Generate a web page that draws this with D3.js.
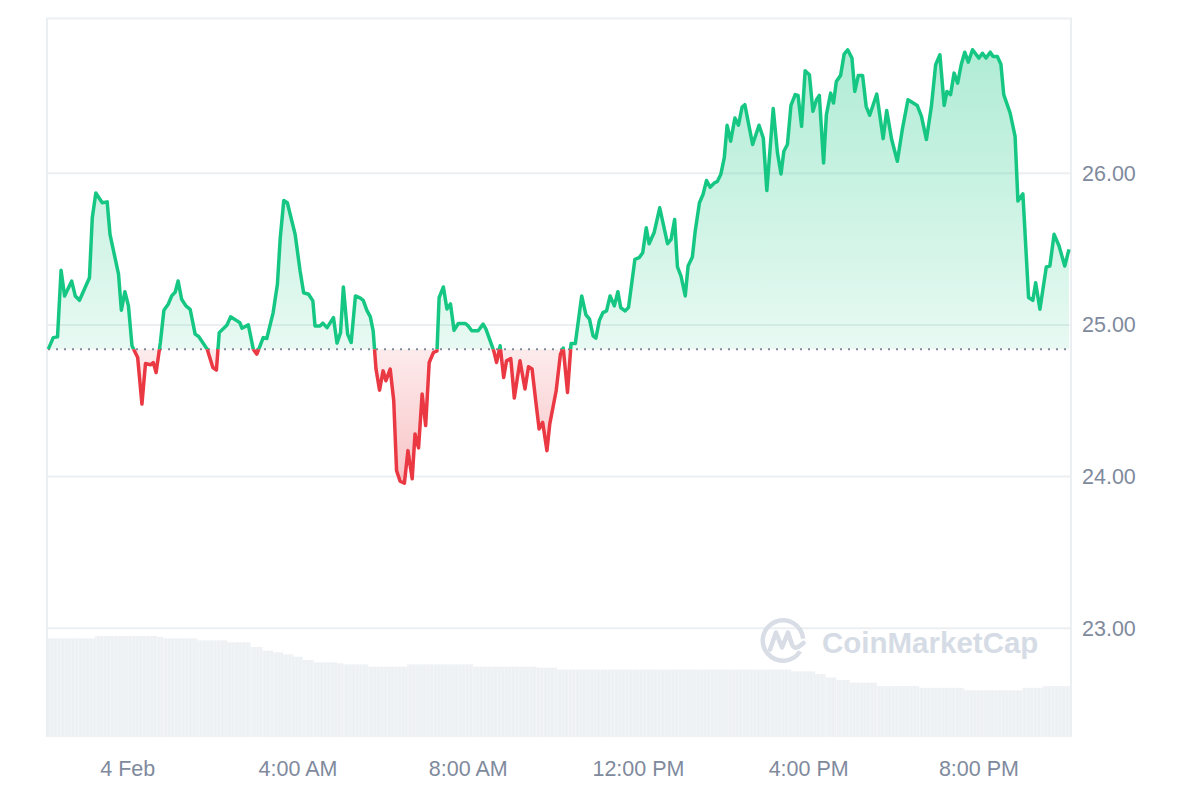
<!DOCTYPE html>
<html>
<head>
<meta charset="utf-8">
<script src="https://cdn.jsdelivr.net/npm/d3@7"></script>
<style>
  html, body { margin: 0; padding: 0; background: #fff; }
  svg { display: block; font-family: "Liberation Sans", Arial, sans-serif; }
  .tick-label { fill: #808a9d; font-size: 21.5px; }
</style>
</head>
<body>
<svg id="chart" width="1200" height="800"></svg>
<script>
// minutes after midnight, 4 Feb (negative = 3 Feb)
const priceMin = [-112,-105,-99,-94,-89,-79,-74,-68,-54,-50,-45,-36,-29,-25,-13,-9,-4,1,6,14,
  20,25,32,36,40,46,51,57,62,67,71,76,82,88,95,100,112,120,125,129,
  140,145,158,161,170,177,182,191,196,205,211,215,220,225,236,243,248,255,261,264,
  271,275,281,290,295,300,304,310,315,321,328,332,337,342,346,350,355,360,364,370,
  375,379,384,390,395,401,405,410,415,420,425,431,436,439,445,450,455,460,466,476,
  480,485,494,501,505,511,516,520,525,530,534,540,545,553,560,565,570,576,580,585,
  591,595,604,610,614,620,625,631,640,646,651,656,660,665,670,675,680,686,691,695,
  701,706,715,721,726,731,735,742,750,761,766,771,775,780,786,790,796,800,806,811,
  816,821,827,831,836,841,845,850,856,861,866,870,881,890,896,901,910,916,921,925,
  930,935,941,945,950,955,961,966,971,975,981,985,991,995,999,1005,1010,1015,1021,1025,
  1030,1036,1041,1046,1056,1065,1070,1077,1085,1092,1100,1113,1119,1126,1133,1139,1145,1151,1155,1160,
  1165,1170,1175,1180,1185,1191,1200,1205,1210,1216,1220,1226,1231,1235,1244,1251,1255,1262,1270,1276,
  1280,1286,1295,1300,1306,1313,1321,1327];

const price = [24.840,24.916,24.921,25.360,25.191,25.289,25.191,25.162,25.311,25.706,
  25.870,25.805,25.811,25.597,25.334,25.097,25.219,25.125,24.862,24.785,
  24.478,24.745,24.737,24.752,24.686,24.884,25.097,25.136,25.191,25.217,
  25.289,25.169,25.125,25.103,24.939,24.923,24.840,24.719,24.702,24.949,
  25.000,25.053,25.015,24.978,25.000,24.840,24.807,24.916,24.910,25.081,
  25.268,25.574,25.820,25.805,25.597,25.355,25.212,25.202,25.158,24.993,
  24.993,25.011,24.982,25.048,24.880,24.949,25.250,24.939,24.884,25.191,
  25.176,25.162,25.097,25.053,24.961,24.709,24.570,24.697,24.632,24.709,
  24.500,24.039,23.969,23.956,24.171,23.985,24.281,24.189,24.544,24.336,
  24.752,24.818,24.829,25.180,25.250,25.105,25.138,24.965,25.009,25.009,
  24.993,24.961,24.961,25.005,24.972,24.895,24.829,24.752,24.862,24.653,
  24.763,24.778,24.518,24.763,24.577,24.724,24.709,24.467,24.314,24.357,
  24.171,24.347,24.566,24.807,24.847,24.555,24.877,24.877,25.191,25.066,
  25.038,24.928,24.913,25.031,25.081,25.092,25.191,25.125,25.219,25.114,
  25.092,25.114,25.432,25.443,25.476,25.640,25.535,25.607,25.772,25.535,
  25.564,25.695,25.382,25.322,25.191,25.388,25.447,25.618,25.805,25.860,
  25.952,25.908,25.936,25.944,25.991,26.101,26.316,26.211,26.364,26.316,
  26.434,26.452,26.189,26.316,26.232,25.886,26.426,26.134,25.995,26.145,
  26.189,26.447,26.518,26.513,26.309,26.676,26.649,26.408,26.485,26.513,
  26.068,26.386,26.528,26.463,26.605,26.645,26.785,26.814,26.759,26.539,
  26.645,26.645,26.441,26.382,26.522,26.228,26.413,26.222,26.079,26.288,
  26.485,26.447,26.375,26.222,26.441,26.715,26.781,26.447,26.539,26.518,
  26.660,26.594,26.715,26.798,26.732,26.814,26.759,26.791,26.759,26.798,
  26.770,26.770,26.719,26.518,26.397,26.243,25.816,25.864,25.180,25.162,
  25.278,25.103,25.382,25.388,25.597,25.520,25.388,25.498];

// 24h volume (relative units), step changes
const volMin = [-113,-46,42,50,98,140,173,190,205,219,233,247,262,295,304,339,394,487,577,605,
  935,969,984,999,1018,1056,1116,1179,1261,1290];
const volume = [98.7,101,100,98.7,96.7,94.7,90,86.3,84.7,82.7,80.3,77,74.7,73.7,72.7,70.3,72.7,70.3,69.3,67.4,
  65.7,63,59.5,57,54.3,50.9,49.2,46.7,49.2,50.9];
const volEndMin = 1330;

const yTicks = [23, 24, 25, 26];
const yDomain = [22.283, 27.02];

const GREEN = '#16c784', RED = '#ea3943', GRID = '#eceff2';
const day0 = new Date(2025, 1, 4, 0, 0);
const toDate = m => new Date(day0.getTime() + m * 60000);

const plot = { left: 47, right: 1071, top: 18.5, bottom: 737 };
const svg = d3.select('#chart');

const data = priceMin.map((m, i) => ({ t: toDate(m), v: price[i] }));
const baseline = price[0];

const x = d3.scaleTime()
  .domain([data[0].t, data[data.length - 1].t])
  .range([plot.left + 1.3, plot.right - 2]);
const y = d3.scaleLinear().domain(yDomain).range([plot.bottom, plot.top]);
const yVol = d3.scaleLinear().domain([0, d3.max(volume)]).range([plot.bottom, plot.bottom - 101]);
const yBase = y(baseline);

// gradients + clips
const defs = svg.append('defs');
const gUp = defs.append('linearGradient').attr('id', 'gUp')
  .attr('gradientUnits', 'userSpaceOnUse').attr('x1', 0).attr('x2', 0)
  .attr('y1', y(d3.max(price))).attr('y2', yBase);
gUp.append('stop').attr('offset', 0).attr('stop-color', GREEN).attr('stop-opacity', 0.34);
gUp.append('stop').attr('offset', 1).attr('stop-color', GREEN).attr('stop-opacity', 0.1);
const gDn = defs.append('linearGradient').attr('id', 'gDn')
  .attr('gradientUnits', 'userSpaceOnUse').attr('x1', 0).attr('x2', 0)
  .attr('y1', yBase).attr('y2', y(d3.min(price)));
gDn.append('stop').attr('offset', 0).attr('stop-color', RED).attr('stop-opacity', 0.1);
gDn.append('stop').attr('offset', 1).attr('stop-color', RED).attr('stop-opacity', 0.3);

defs.append('clipPath').attr('id', 'clipUp').append('rect')
  .attr('x', 0).attr('y', 0).attr('width', 1200).attr('height', yBase);
defs.append('clipPath').attr('id', 'clipDn').append('rect')
  .attr('x', 0).attr('y', yBase).attr('width', 1200).attr('height', 800 - yBase);

// faint bar striping for the volume band
const stripe = defs.append('pattern').attr('id', 'volStripe')
  .attr('patternUnits', 'userSpaceOnUse').attr('width', 3.55).attr('height', 10);
stripe.append('rect').attr('width', 3.55).attr('height', 10).attr('fill', '#eef1f4');
stripe.append('rect').attr('width', 0.6).attr('height', 10).attr('fill', '#f4f6f8');

// volume bars
const volG = svg.append('g');
volG.selectAll('rect').data(volume).enter().append('rect')
  .attr('x', (d, i) => x(toDate(volMin[i])))
  .attr('width', (d, i) => x(toDate(i + 1 < volMin.length ? volMin[i + 1] : volEndMin)) - x(toDate(volMin[i])))
  .attr('y', d => yVol(d))
  .attr('height', d => plot.bottom - yVol(d))
  .attr('fill', 'url(#volStripe)');

// grid + frame
const gridG = svg.append('g');
gridG.selectAll('line').data(yTicks).enter().append('line')
  .attr('x1', plot.left).attr('x2', plot.right)
  .attr('y1', d => y(d)).attr('y2', d => y(d))
  .attr('stroke', GRID).attr('stroke-width', 2);
gridG.append('path')
  .attr('d', `M${plot.left},${plot.bottom}V${plot.top}H${plot.right}V${plot.bottom}`)
  .attr('fill', 'none').attr('stroke', GRID).attr('stroke-width', 2);

// watermark
const wm = svg.append('g').attr('transform', 'translate(783,640.5)').attr('opacity', 0.95);
wm.append('path')
  .attr('d', d3.arc().innerRadius(18).outerRadius(22.5).startAngle(0.68 * Math.PI).endAngle(2.47 * Math.PI)())
  .attr('fill', '#d6dce5');
wm.append('path')
  .attr('d', 'M-13,9 L-7,-8 L-1,7 L5,-8 L9,4 Q11,9 16,6 L20.5,2.5')
  .attr('fill', 'none').attr('stroke', '#d6dce5').attr('stroke-width', 4.5)
  .attr('stroke-linejoin', 'round').attr('stroke-linecap', 'round');
svg.append('text').attr('x', 822).attr('y', 653)
  .attr('font-size', 29.5).attr('font-weight', 700).attr('fill', '#d6dce5')
  .text('CoinMarketCap');

// price area + line
const area = d3.area().x(d => x(d.t)).y0(yBase).y1(d => y(d.v));
const line = d3.line().x(d => x(d.t)).y(d => y(d.v));

svg.append('path').datum(data).attr('d', area).attr('fill', 'url(#gUp)').attr('clip-path', 'url(#clipUp)');
svg.append('path').datum(data).attr('d', area).attr('fill', 'url(#gDn)').attr('clip-path', 'url(#clipDn)');

svg.append('line')
  .attr('x1', plot.left + 1).attr('x2', plot.right - 2)
  .attr('y1', yBase).attr('y2', yBase)
  .attr('stroke', '#808a9d').attr('stroke-width', 2).attr('stroke-dasharray', '2,6');

svg.append('path').datum(data).attr('d', line)
  .attr('fill', 'none').attr('stroke', GREEN).attr('stroke-width', 3.5)
  .attr('stroke-linejoin', 'round').attr('clip-path', 'url(#clipUp)');
svg.append('path').datum(data).attr('d', line)
  .attr('fill', 'none').attr('stroke', RED).attr('stroke-width', 3.5)
  .attr('stroke-linejoin', 'round').attr('clip-path', 'url(#clipDn)');

// axes labels
svg.append('g').selectAll('text').data(yTicks).enter().append('text')
  .attr('class', 'tick-label')
  .attr('x', 1082).attr('y', d => y(d)).attr('dy', '0.35em')
  .text(d3.format('.2f'));

const fmtDay = d3.timeFormat('%-d %b'), fmtHour = d3.timeFormat('%-I:%M %p');
svg.append('g').selectAll('text').data(x.ticks(d3.timeHour.every(4))).enter().append('text')
  .attr('class', 'tick-label')
  .attr('x', d => x(d)).attr('y', 776).attr('text-anchor', 'middle')
  .text(d => d.getHours() === 0 ? fmtDay(d) : fmtHour(d));
</script>
</body>
</html>
